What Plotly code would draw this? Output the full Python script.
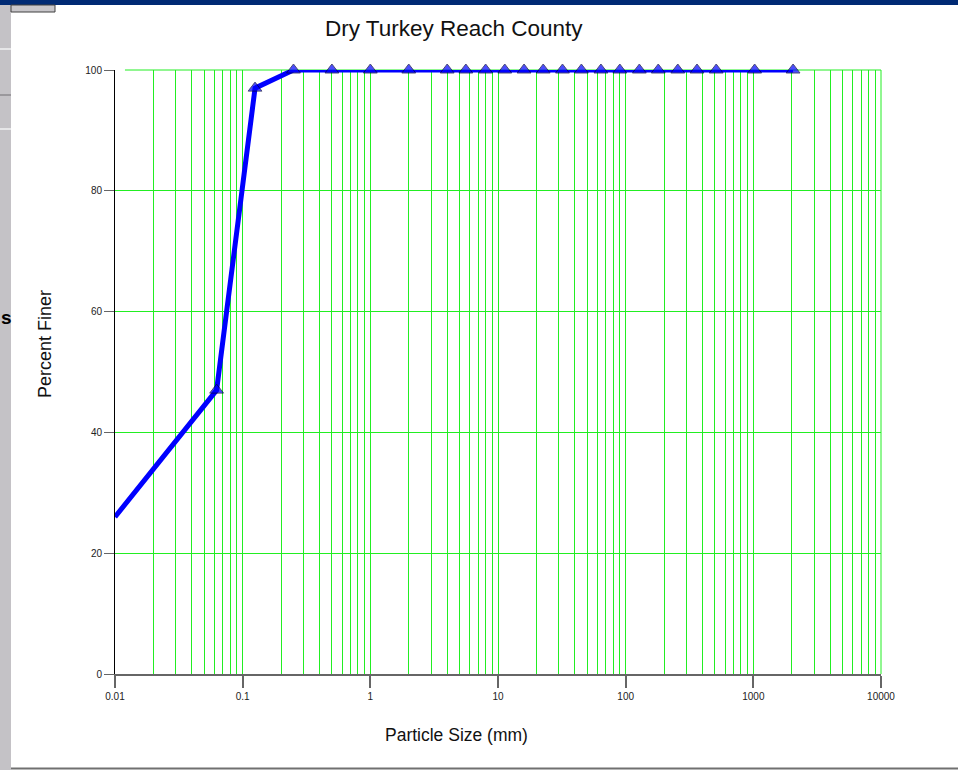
import plotly.graph_objects as go

# Sieve analysis: particle size (mm) vs. percent finer
size_mm = [0.01, 0.0625, 0.125, 0.25, 0.5, 1, 2, 4, 5.6, 8, 11.3, 16, 22.6, 32, 45,
           64, 90, 128, 180, 256, 362, 512, 1024, 2048]
percent_finer = [26, 47, 97, 100, 100, 100, 100, 100, 100, 100, 100, 100, 100, 100, 100,
                 100, 100, 100, 100, 100, 100, 100, 100, 100]
# the first value only anchors the curve at the left edge (no marker)
marker_sizes = [0] + [12] * (len(size_mm) - 1)

x_tick_vals = [0.01, 0.1, 1, 10, 100, 1000, 10000]
x_tick_text = ["0.01", "0.1", "1", "10", "100", "1000", "10000"]
y_tick_vals = [0, 20, 40, 60, 80, 100]

W, H = 958, 770
FONT = "Liberation Sans, Arial, sans-serif"
GREEN = "#22ee22"
TICK = "#666666"


def px(x):
    return x / W


def py(y):
    return 1 - y / H


x_dom = [px(115), px(881)]
y_dom = [py(674), py(70)]
minor_vals = [m * 10 ** e for e in range(-2, 4) for m in range(2, 10)]

fig = go.Figure()
fig.add_trace(go.Scatter(
    x=size_mm, y=percent_finer, mode="lines+markers",
    line=dict(color="#0000ff", width=5),
    marker=dict(symbol="triangle-up", size=marker_sizes, color="#0000ff",
                line=dict(color="#000040", width=1)),
    cliponaxis=False, showlegend=False, hoverinfo="x+y",
))

fig.update_layout(
    width=W, height=H, margin=dict(l=0, r=0, t=0, b=0, pad=0, autoexpand=False),
    paper_bgcolor="white", plot_bgcolor="white",
    font=dict(family=FONT, color="#111111"),
    xaxis=dict(
        type="log", range=[-2, 4], domain=x_dom, anchor="y", automargin=False,
        tickvals=x_tick_vals, ticktext=x_tick_text,
        tickfont=dict(size=10, color="#222222"),
        ticks="outside", ticklen=12, tickwidth=2, tickcolor=TICK,
        showline=True, linecolor=TICK, linewidth=2,
        showgrid=True, gridcolor=GREEN, gridwidth=1,
        minor=dict(tickvals=minor_vals, showgrid=True, gridcolor=GREEN,
                   gridwidth=1, ticks=""),
        zeroline=False, fixedrange=True,
    ),
    xaxis2=dict(
        type="log", range=[-2, 4], domain=x_dom, anchor="y", overlaying="x",
        automargin=False, tickvals=x_tick_vals, showticklabels=False,
        ticks="inside", ticklen=12, tickwidth=2, tickcolor=TICK,
        showgrid=False, showline=False, zeroline=False,
        minor=dict(showgrid=False, ticks=""),
    ),
    yaxis=dict(
        range=[0, 100], domain=y_dom, anchor="x", automargin=False,
        tickvals=y_tick_vals, tickfont=dict(size=10, color="#222222"),
        ticks="outside", ticklen=10, tickwidth=1, tickcolor=TICK,
        showline=True, linecolor="#000000", linewidth=1,
        showgrid=True, gridcolor=GREEN, gridwidth=1,
        zeroline=False, fixedrange=True,
    ),
    yaxis2=dict(
        range=[0, 100], domain=y_dom, anchor="x", overlaying="y",
        automargin=False, tickvals=y_tick_vals, showticklabels=False,
        ticks="inside", ticklen=10, tickwidth=1, tickcolor=TICK,
        showgrid=False, showline=False, zeroline=False,
        minor=dict(showgrid=False, ticks=""),
    ),
)

shapes = [
    # green frame on top and right of the plot area
    dict(type="line", xref="x domain", yref="y domain", x0=0.013, x1=1, y0=1, y1=1,
         line=dict(color=GREEN, width=1), layer="below"),
    dict(type="line", xref="x domain", yref="y domain", x0=1, x1=1, y0=0, y1=1,
         line=dict(color=GREEN, width=1), layer="below"),
    # window chrome: title bar, side strip, small button, bottom edge
    dict(type="rect", xref="paper", yref="paper", x0=0, x1=1, y0=py(5), y1=1,
         fillcolor="#002a74", line_width=0),
    dict(type="rect", xref="paper", yref="paper", x0=0, x1=px(11), y0=0, y1=py(5),
         fillcolor="#c4c2c6", line_width=0),
    dict(type="rect", xref="paper", yref="paper", x0=px(11), x1=px(55), y0=py(12), y1=py(5),
         fillcolor="#c8c6ca", line=dict(color="#404040", width=1)),
    dict(type="line", xref="paper", yref="paper", x0=0, x1=px(11), y0=py(49), y1=py(49),
         line=dict(color="#e6e6e8", width=2)),
    dict(type="line", xref="paper", yref="paper", x0=0, x1=px(11), y0=py(95), y1=py(95),
         line=dict(color="#9a989c", width=2)),
    dict(type="line", xref="paper", yref="paper", x0=0, x1=px(11), y0=py(129), y1=py(129),
         line=dict(color="#e6e6e8", width=2)),
    dict(type="line", xref="paper", yref="paper", x0=px(11), x1=1, y0=py(768.5), y1=py(768.5),
         line=dict(color="#707070", width=2)),
]
fig.update_layout(shapes=shapes)

annotations = [
    dict(text="Dry Turkey Reach County", x=px(453.5), y=py(28), xref="paper", yref="paper",
         showarrow=False, font=dict(size=22.5, family=FONT, color="#111111"),
         xanchor="center", yanchor="middle"),
    dict(text="Particle Size (mm)", x=px(456), y=py(735), xref="paper", yref="paper",
         showarrow=False, font=dict(size=17.5, family=FONT, color="#111111"),
         xanchor="center", yanchor="middle"),
    dict(text="Percent Finer", x=px(45), y=py(344), xref="paper", yref="paper",
         showarrow=False, textangle=-90, font=dict(size=18, family=FONT, color="#111111"),
         xanchor="center", yanchor="middle"),
    dict(text="<b>s</b>", x=0, y=py(317), xref="paper", yref="paper",
         showarrow=False, font=dict(size=19, family=FONT, color="#000000"),
         xanchor="left", yanchor="middle", borderpad=0),
]
fig.update_layout(annotations=annotations)

fig.write_html("out.html", config={"displayModeBar": False})
